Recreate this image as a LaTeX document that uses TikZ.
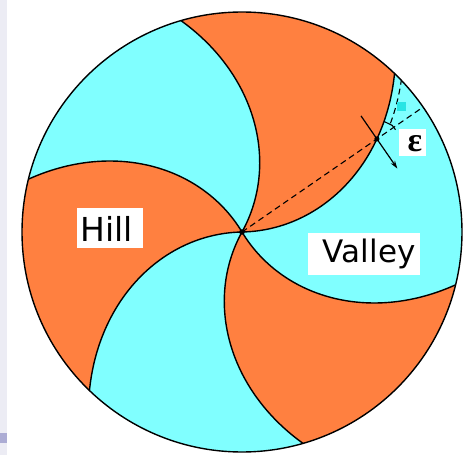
\documentclass[tikz,border=0pt]{standalone}
\usepackage{fontspec}
\newfontfamily\dejavu{DejaVu Sans}
\newfontfamily\greekserif{Liberation Serif}
\usetikzlibrary{arrows.meta,calc}
\definecolor{hillc}{RGB}{255,128,64}
\definecolor{valc}{RGB}{128,255,255}
\definecolor{stripc}{RGB}{236,236,244}
\definecolor{barc}{RGB}{172,172,212}
\definecolor{sqc}{RGB}{40,228,228}
\begin{document}
\begin{tikzpicture}[x=1pt,y=1pt,
  bnd/.style={line width=1.4pt,line join=round},
  dashline/.style={line width=1.1pt,dash pattern=on 6pt off 4pt},
  labelbox/.style={fill=white,inner sep=0pt},
  labeltext/.style={inner sep=0pt,font=\dejavu\fontsize{#1}{#1}\selectfont},
  epstext/.style={inner sep=0pt,font=\greekserif\bfseries\fontsize{34}{34}\selectfont},
  arr/.style={line width=1.2pt,-{Stealth[length=8pt,width=5pt]}}]
% image (x,y) -> (x-242, 232-y)
\useasboundingbox (-242,-223) rectangle (224,232);
\fill[white] (-242,-223) rectangle (224,232);
\fill[stripc] (-242,-223) rectangle (-235,232);
\fill[barc] (-242,-201) rectangle (-235,-211);
% valley background
\fill[valc] (0,0) circle[radius=220];
% hill sectors
\foreach \k in {0,2,4}{
  \fill[hillc] plot[domain=0:220,samples=60,variable=\r] ({61+0.205*\r-60*\k}:\r)
    arc[start angle={106.1-60*\k}, end angle={46.1-60*\k}, radius=220]
    -- plot[domain=220:0,samples=60,variable=\r] ({1+0.205*\r-60*\k}:\r) -- cycle;
}
% boundaries
\foreach \k in {0,...,5}{
  \draw[bnd] plot[domain=0:220,samples=60,variable=\r] ({61+0.205*\r-60*\k}:\r);
}
\draw[bnd] (0,0) circle[radius=220];
% construction
\coordinate (O) at (0,0);
\coordinate (X) at (34.6:163.9);
\coordinate (P) at (34.6:220);
\coordinate (A1) at ($(X)+(124.6:28)$);
\coordinate (A2) at ($(X)+(-55.4:36)$);
\draw[dashline] (O) -- (P);
\draw[dashline] plot[domain=184:220,samples=20,variable=\r] ({1+0.205*\r-2.5}:\r);
\draw[line width=1.1pt,line join=round] (37.9:180) -- (150.2,106.6) -- (153.5,102.3);
\draw[arr] (A1) -- (A2);
\fill (O) circle[radius=2.8];
\fill (X) circle[radius=2.6];
\fill[sqc] (155,130) rectangle (164,121);
% labels
\node[labelbox,minimum width=66pt,minimum height=40pt] (hillbox) at (-132.3,3.7) {};
\node[labeltext=33] (hill) at (-135.3,3.5) {Hill};
\node[labelbox,minimum width=112pt,minimum height=42pt] (valbox) at (122.2,-22.2) {};
\node[labeltext=31] (valley) at (127.2,-22.2) {Valley};
\node[labelbox,minimum width=27pt,minimum height=27pt] (epsbox) at (170.5,89.5) {};
\node[epstext] (epsl) at (173,88) {ε};
\end{tikzpicture}
\end{document}
